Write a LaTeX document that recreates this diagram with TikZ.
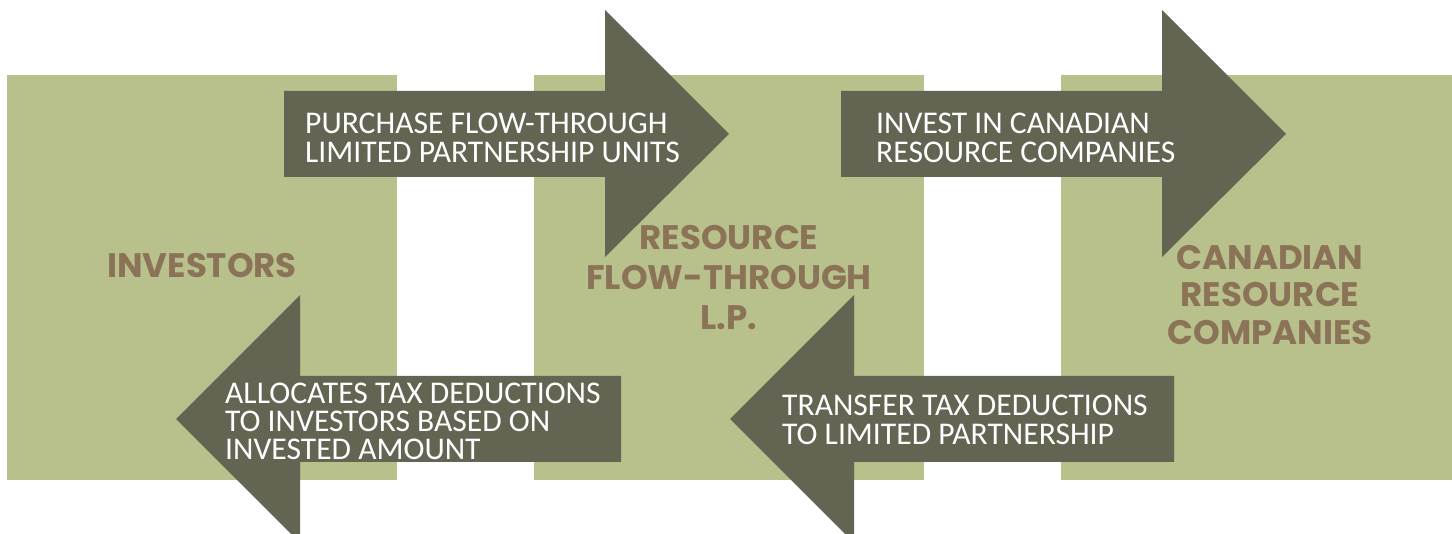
\documentclass[tikz,border=0pt]{standalone}
\usepackage{fontspec}
\setmainfont{Carlito}
\newfontfamily\lblfont{Poppins}
\definecolor{boxgreen}{RGB}{184,192,140}
\definecolor{arrowgrey}{RGB}{99,100,81}
\definecolor{lblbrown}{RGB}{139,115,88}
\tikzset{
  panel/.style={fill=boxgreen, draw=none, inner sep=0, outer sep=0, anchor=north west},
  blockarrow/.style={fill=arrowgrey, draw=none},
  arrowtext/.style={text=white, anchor=north west, align=left, inner sep=0,
    font=\fontsize{31.6}{28.3}\selectfont},
  biglabel/.style={text=lblbrown, anchor=north, align=center, inner sep=0}
}
\begin{document}
\begin{tikzpicture}[x=1pt, y=-1pt]
\useasboundingbox (0,0) rectangle (1452,534);
% panels
\node[panel, minimum width=390pt, minimum height=405pt] (inv) at (7,75) {};
\node[panel, minimum width=390pt, minimum height=405pt] (lp) at (534,75) {};
\node[panel, minimum width=391pt, minimum height=405pt] (crc) at (1061,75) {};
% block arrows
\fill[blockarrow] (284,91) -- (605,91) -- (605,10) -- (729,134) -- (605,257) -- (605,177) -- (284,177) -- cycle;
\fill[blockarrow] (841,91) -- (1162,91) -- (1162,10) -- (1286,134) -- (1162,257) -- (1162,177) -- (841,177) -- cycle;
\fill[blockarrow] (621,376) -- (300,376) -- (300,295) -- (176,419) -- (300,543) -- (300,462) -- (621,462) -- cycle;
\fill[blockarrow] (1174,376) -- (854,376) -- (854,295) -- (730,419) -- (854,543) -- (854,462) -- (1174,462) -- cycle;
% arrow texts
\node[arrowtext] (t1) at (305,113) {PURCHASE FLOW-THROUGH\\LIMITED PARTNERSHIP UNITS};
\node[arrowtext] (t2) at (876,113) {INVEST IN CANADIAN\\RESOURCE COMPANIES};
\node[arrowtext] (t3) at (225,382.5) {ALLOCATES TAX DEDUCTIONS\\TO INVESTORS BASED ON\\INVESTED AMOUNT};
\node[arrowtext] (t4) at (782,395) {TRANSFER TAX DEDUCTIONS\\TO LIMITED PARTNERSHIP};
% labels
\node[biglabel, font=\lblfont\bfseries\fontsize{34}{40}\selectfont] (l1) at (202,253) {INVESTORS};
\node[biglabel, font=\lblfont\bfseries\fontsize{34}{40}\selectfont] (l2) at (729,225) {RESOURCE\\FLOW-THROUGH\\L.P.};
\node[biglabel, font=\lblfont\bfseries\fontsize{34}{37.5}\selectfont] (l3) at (1270,245) {CANADIAN\\RESOURCE\\COMPANIES};
\end{tikzpicture}
\end{document}
